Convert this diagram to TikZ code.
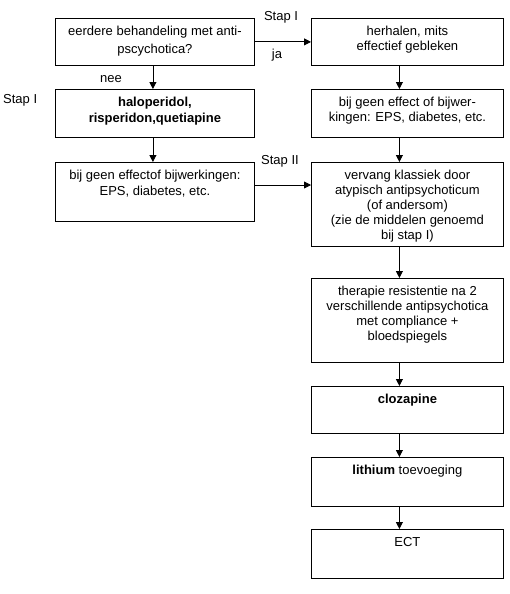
\documentclass[tikz,border=0pt]{standalone}
\usepackage{fontspec}
\setmainfont{Liberation Sans}
\usetikzlibrary{arrows.meta}
\begin{document}
\begin{tikzpicture}[x=1pt,y=-1pt,
  box/.style={draw, line width=0.8pt, inner sep=0pt, anchor=north west},
  lbox/.style={box, minimum width=199pt},
  rbox/.style={box, minimum width=192pt},
  txt/.style={anchor=north, align=center, inner sep=0pt, font=\fontsize{13}{15}\selectfont},
  ltxt/.style={txt, font=\fontsize{13}{15.5}\selectfont},
  lab/.style={inner sep=0pt, font=\fontsize{13}{15}\selectfont},
  arr/.style={line width=0.8pt, -{Triangle[length=7pt,width=7pt]}}]
\useasboundingbox (0,0) rectangle (510,594);
% left column
\node[lbox, minimum height=47pt] (b1) at (55,18) {};
\node[ltxt, font=\fontsize{13}{17.5}\selectfont] (t1) at ([yshift=-8pt]b1.north) {eerdere behandeling met anti-\\pscychotica?};
\node[lbox, minimum height=48pt] (b2) at (55,89) {};
\node[ltxt] (t2) at ([yshift=-8pt]b2.north) {\textbf{haloperidol,}\\\textbf{risperidon,quetiapine}};
\node[lbox, minimum height=59pt] (b3) at (55,162) {};
\node[ltxt] (t3) at ([yshift=-8pt]b3.north) {bij geen effectof bijwerkingen:\\EPS, diabetes, etc.};
% right column
\node[rbox, minimum height=47pt] (rA) at (311,18) {};
\node[txt] (tA) at ([yshift=-8pt]rA.north) {herhalen, mits\\effectief gebleken};
\node[rbox, minimum height=48pt] (rB) at (311,89) {};
\node[txt] (tB) at ([yshift=-8pt]rB.north) {bij geen effect of bijwer-\\kingen: EPS, diabetes, etc.};
\node[rbox, minimum height=84pt] (rC) at (311,162) {};
\node[txt] (tC) at ([yshift=-8pt]rC.north) {vervang klassiek door\\atypisch antipsychoticum\\(of andersom)\\(zie de middelen genoemd\\bij stap I)};
\node[rbox, minimum height=84pt] (rD) at (311,278) {};
\node[txt] (tD) at ([yshift=-8pt]rD.north) {therapie resistentie na 2\\verschillende antipsychotica\\met compliance +\\bloedspiegels};
\node[rbox, minimum height=47pt] (rE) at (311,386) {};
\node[txt] (tE) at ([yshift=-8pt]rE.north) {\textbf{clozapine}};
\node[rbox, minimum height=49pt] (rF) at (311,457) {};
\node[txt] (tF) at ([yshift=-8pt]rF.north) {\textbf{lithium} toevoeging};
\node[rbox, minimum height=49pt] (rG) at (311,529) {};
\node[txt] (tG) at ([yshift=-8pt]rG.north) {ECT};
% labels
\node[lab, anchor=west] (s1) at (3,100) {Stap I};
\node[lab] (nee) at (111,79) {nee};
\node[lab] (s1r) at (281,17) {Stap I};
\node[lab] (ja) at (277,55) {ja};
\node[lab] (s2) at (280,161) {Stap II};
% connectors
\draw[arr] ([xshift=-2pt]b1.south) -- ([xshift=-2pt]b2.north);
\draw[arr] ([xshift=-2pt]b2.south) -- ([xshift=-2pt]b3.north);
\draw[arr] (b1.east) -- (rA.west);
\draw[arr] ([yshift=-23pt]b3.north east) -- ([yshift=-23pt]rC.north west);
\draw[arr] ([xshift=-8pt]rA.south) -- ([xshift=-8pt]rB.north);
\draw[arr] ([xshift=-8pt]rB.south) -- ([xshift=-8pt]rC.north);
\draw[arr] ([xshift=-8pt]rC.south) -- ([xshift=-8pt]rD.north);
\draw[arr] ([xshift=-8pt]rD.south) -- ([xshift=-8pt]rE.north);
\draw[arr] ([xshift=-8pt]rE.south) -- ([xshift=-8pt]rF.north);
\draw[arr] ([xshift=-8pt]rF.south) -- ([xshift=-8pt]rG.north);
\end{tikzpicture}
\end{document}
